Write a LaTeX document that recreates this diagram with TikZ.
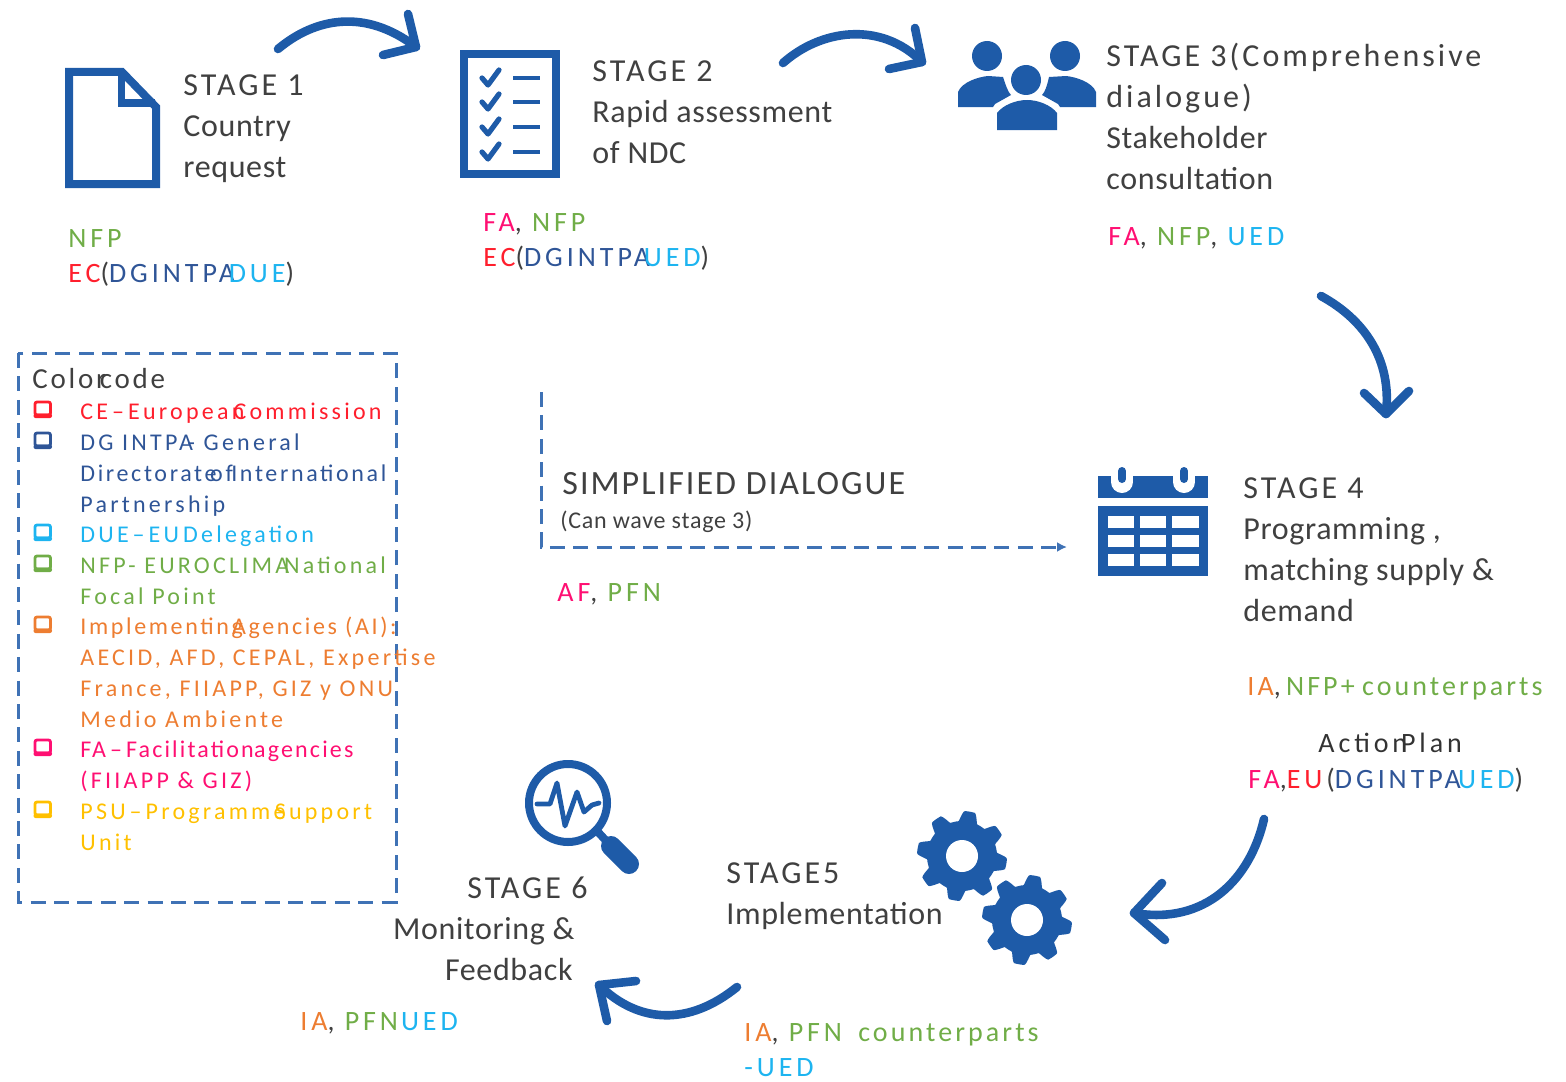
\documentclass[tikz,border=0pt]{standalone}
\usepackage{fontspec}
\usetikzlibrary{arrows.meta}
\newfontfamily\lblf[LetterSpace=9.5]{Carlito}
\newfontfamily\bodyf[LetterSpace=2]{Carlito}
\newfontfamily\legf[LetterSpace=13.5]{Carlito}
\newfontfamily\whof[LetterSpace=14]{Carlito}
\newfontfamily\tightf[LetterSpace=11]{Carlito}
\newfontfamily\vtightf[LetterSpace=9]{Carlito}
\newfontfamily\smallf[LetterSpace=3]{Carlito}
\newfontfamily\simpf[LetterSpace=6]{Carlito}
\definecolor{iconblue}{HTML}{1E5BA8}
\definecolor{dashblue}{HTML}{3F72B5}
\definecolor{inktext}{HTML}{404040}
\definecolor{cred}{HTML}{FF1F2D}
\definecolor{cdg}{HTML}{2F5597}
\definecolor{cdue}{HTML}{1DB4F0}
\definecolor{cnfp}{HTML}{70AD47}
\definecolor{cia}{HTML}{ED7D31}
\definecolor{cfa}{HTML}{FF0F72}
\definecolor{cpsu}{HTML}{FFC000}
\newcommand{\ov}{\kern-0.22em }
\newcommand{\lov}{\kern-0.45em }
\tikzset{
 txt/.style={anchor=north west,yshift=12pt,inner sep=0pt,align=left,text=inktext,
   execute at begin node={\vrule height 12pt width 0pt depth 0pt}},
 stagetext/.style={txt,font=\lblf\fontsize{16}{20.5}\selectfont},
 who/.style={txt,font=\whof\fontsize{14}{17.6}\selectfont},
 legtext/.style={txt,font=\legf\fontsize{12}{15.5}\selectfont},
 arrowline/.style={draw=iconblue,line width=4.3pt,line cap=round,line join=round},
 iconline/.style={draw=iconblue,line width=4pt,line join=miter},
 iconfill/.style={fill=iconblue,draw=none},
 dashline/.style={draw=dashblue,line width=1.5pt,dash pattern=on 7.5pt off 4.2pt},
 chk/.style={draw=#1,line width=1.4pt,rounded corners=1pt,fill=white},
}
\begin{document}
\begin{tikzpicture}[x=0.5pt,y=-0.5pt]
\useasboundingbox (0,0) rectangle (1566,1081);

% Stage 1 document icon
\draw[iconline] (69,72) -- (122,72) -- (156,107) -- (156,184) -- (69,184) -- cycle;
\draw[iconline,line width=3.5pt] (121,74) -- (121,103) -- (155,103);
\node[stagetext] (s1) at (183,98) {STAGE 1\\\bodyf Country\\\bodyf request};
\node[who] (w1) at (68,253) {\textcolor{cnfp}{NFP}\\\textcolor{cred}{EC}(\textcolor{cdg}{DG\ov\ INTPA}\ov\textcolor{cdue}{DUE})};

% Stage 2 checklist icon
\draw[iconline] (464,54) rectangle (556,174);
\foreach \yy in {78,102,127,152}{
  \draw[iconblue,line width=2.6pt,line cap=round,line join=round] (482,\yy) -- (488,\yy+7) -- (499,\yy-8);
  \draw[iconblue,line width=2.4pt] (513,\yy) -- (540,\yy);
}
\node[stagetext] (s2) at (592,84) {STAGE 2\\\bodyf Rapid assessment\\\bodyf of NDC};
\node[who] (w2) at (483,237) {\textcolor{cfa}{FA}, \textcolor{cnfp}{NFP}\\\textcolor{cred}{EC}(\textcolor{cdg}{DG\ov\ INTPA}\ov\textcolor{cdue}{UED})};

% Stage 3 people icon
\fill[iconfill] (987,56) circle (15);
\fill[iconfill] (1065,56) circle (15);
\fill[iconfill] (1026,80) circle (15);
\fill[iconfill] (958,107) -- (958,92) .. controls (962,82) and (978,77) .. (988,76) -- (1003,77) .. controls (1006,86) and (1008,92) .. (1011,95) -- (995,104) -- (993,107) -- cycle;
\fill[iconfill] (1096,107) -- (1096,92) .. controls (1092,82) and (1076,77) .. (1066,76) -- (1049,77) .. controls (1047,86) and (1045,92) .. (1042,95) -- (1058,104) -- (1060,107) -- cycle;
\fill[iconfill] (997,130) -- (997,113) .. controls (1003,105) and (1016,100) .. (1027,100) .. controls (1038,100) and (1051,105) .. (1057,113) -- (1057,130) -- cycle;
\node[stagetext] (s3) at (1106,67) {STAGE 3(Comprehensive\\dialogue)\\\bodyf Stakeholder\\\bodyf consultation};
\node[who] (w3) at (1108,245) {\textcolor{cfa}{FA}, \textcolor{cnfp}{NFP}, \textcolor{cdue}{UED}};

% Stage 4 calendar icon
\fill[iconfill] (1098,476) rectangle (1208,498);
\fill[iconfill] (1098,506) rectangle (1208,576);
\foreach \cx in {1122,1184}{
  \draw[white,line width=11pt,line cap=round] (\cx,462) -- (\cx,482);
  \draw[iconblue,line width=4pt,line cap=round] (\cx,471) -- (\cx,479);
}
\foreach \cx/\cw in {1108/26,1140/26,1172/27}{
  \foreach \cy in {516,535,554}{
    \fill[white] (\cx,\cy) rectangle (\cx+\cw,\cy+12);
  }
}
\node[stagetext] (s4) at (1243,501) {STAGE 4\\\bodyf Programming ,\\\bodyf matching supply \&\\\bodyf demand};
\node[who,font=\tightf\fontsize{14}{17.6}\selectfont] (w4) at (1247,695) {\textcolor{cia}{IA},\kern-2pt\ \textcolor{cnfp}{NFP+\kern-1pt\ counterparts}};
\node[who,text=black!80] (ap) at (1318,752) {Action\ov Plan};
\node[who] (w4b) at (1248,788) {\textcolor{cfa}{FA},\textcolor{cred}{EU}\kern2pt(\textcolor{cdg}{DG\ov\ INTPA}\kern-0.1em \textcolor{cdue}{UED})};

% Stage 5 gears
\foreach \gx/\gy in {962/856,1027/920}{
  \fill[iconfill] plot[domain=0:360,samples=193,smooth] ({\gx+(40+5*max(-1,min(1,1.9*cos(8*(\x-10)))))*cos(\x)},{\gy+(40+5*max(-1,min(1,1.9*cos(8*(\x-10)))))*sin(\x)}) -- cycle;
  \fill[white] (\gx,\gy) circle (16);
}
\node[stagetext] (s5) at (726,886) {STAGE5\\\bodyf Implementation};
\node[who] (w5) at (744,1047) {\textcolor{cia}{IA}, \textcolor{cnfp}{PFN}\kern3pt\ \textcolor{cnfp}{\tightf counterparts}\\\textcolor{cdue}{-UED}};

% Stage 6 magnifier
\draw[iconblue,line width=4pt] (568,803) circle (39);
\draw[iconblue,line width=4pt] (598,832) -- (610,845);
\draw[iconblue,line width=10pt,line cap=round] (611,846) -- (629,864);
\draw[iconblue,line width=2.4pt,line join=round,line cap=round] (537,804) -- (550,804) -- (557,783) -- (565,826) -- (577,792) -- (584,812) -- (592,805) -- (599,803);
\node[stagetext,align=right,anchor=north east] (s6) at (588,900) {STAGE 6\\\bodyf Monitoring \&\kern6.5pt\\\bodyf Feedback\kern7.5pt};
\node[who] (w6) at (300,1030) {\textcolor{cia}{IA}, \textcolor{cnfp}{PFN}\kern1.5pt\textcolor{cdue}{UED}};

% Simplified dialogue
\node[txt,font=\simpf\fontsize{17}{20}\selectfont] (sd) at (562,494) {SIMPLIFIED DIALOGUE};
\node[txt,font=\smallf\fontsize{12}{14}\selectfont] (sdb) at (560,528) {(Can wave stage 3)};
\node[who] (sdw) at (557,601) {\textcolor{cfa}{AF}, \textcolor{cnfp}{PFN}};
\coordinate (dlstart) at (541,392);
\coordinate (dlcorner) at (541,547);
\coordinate (dlend) at (1067,547);
\draw[dashline,-{Latex[length=5pt,width=5pt]}] (dlstart) -- (dlcorner) -- (dlend);

% Legend
\draw[dashline] (18,353) rectangle (396,902);
\node[txt,font=\lblf\fontsize{14.5}{17}\selectfont] (lgt) at (32,388) {Color\ov code};
\foreach \yy/\cc in {418/cred,449/cdg,541/cdue,572/cnfp,633/cia,756/cfa,818/cpsu}{
  \draw[chk=\cc] (35,\yy-16) rectangle (50.5,\yy-3);
  \fill[\cc,rounded corners=1pt] (33.5,\yy-4.5) rectangle (52,\yy);
}
\node[legtext,text=cred] (l1) at (80,419) {CE\,–\,European\lov Commission};
\node[legtext,text=cdg] (l2) at (80,457) {DG INTPA\ov - General\\\tightf Directorate\kern-0.6em\ of\kern-0.4em\ International\\Partnership};
\node[legtext,text=cdue] (l3) at (80,542) {DUE\,–\,EU\,Delegation};
\node[legtext,text=cnfp] (l4) at (80,580) {NFP- EUROCLIMA\ov National\\Focal Point};
\node[legtext,text=cia] (l5) at (80,641) {\tightf Implementing\lov Agencies (AI):\\AECID, AFD, CEPAL, Expertise\\France, FIIAPP, GIZ y ONU\\Medio Ambiente};
\node[legtext,text=cfa] (l6) at (80,764) {\vtightf FA\,–\,Facilitation\kern-0.3em\ agencies\\(FIIAPP \& GIZ)};
\node[legtext,text=cpsu] (l7) at (80,828) {PSU\,–\,Programme\lov Support\\Unit};

% Process arrows
\coordinate (a1s) at (278,49); \coordinate (a1t) at (416,47);
\coordinate (a1u) at (408,14); \coordinate (a1v) at (383,55);
\draw[arrowline] (a1s) .. controls (315,18) and (365,8) .. (a1t);
\draw[arrowline] (a1u) -- (a1t) -- (a1v);

\coordinate (a2s) at (783,63); \coordinate (a2t) at (922,62);
\coordinate (a2u) at (915,28); \coordinate (a2v) at (889,69);
\draw[arrowline] (a2s) .. controls (820,30) and (880,20) .. (a2t);
\draw[arrowline] (a2u) -- (a2t) -- (a2v);

\coordinate (a3s) at (1321,296); \coordinate (a3t) at (1386,414);
\coordinate (a3u) at (1364,393); \coordinate (a3v) at (1409,391);
\draw[arrowline] (a3s) .. controls (1365,320) and (1392,360) .. (a3t);
\draw[arrowline] (a3u) -- (a3t) -- (a3v);

\coordinate (a4s) at (1264,819); \coordinate (a4t) at (1134,913);
\coordinate (a4u) at (1162,883); \coordinate (a4v) at (1165,940);
\draw[arrowline] (a4s) .. controls (1250,880) and (1205,925) .. (a4t);
\draw[arrowline] (a4u) -- (a4t) -- (a4v);

\coordinate (a5s) at (737,987); \coordinate (a5t) at (599,985);
\coordinate (a5u) at (636,981); \coordinate (a5v) at (607,1021);
\draw[arrowline] (a5s) .. controls (690,1025) and (640,1025) .. (a5t);
\draw[arrowline] (a5u) -- (a5t) -- (a5v);
\end{tikzpicture}
\end{document}
